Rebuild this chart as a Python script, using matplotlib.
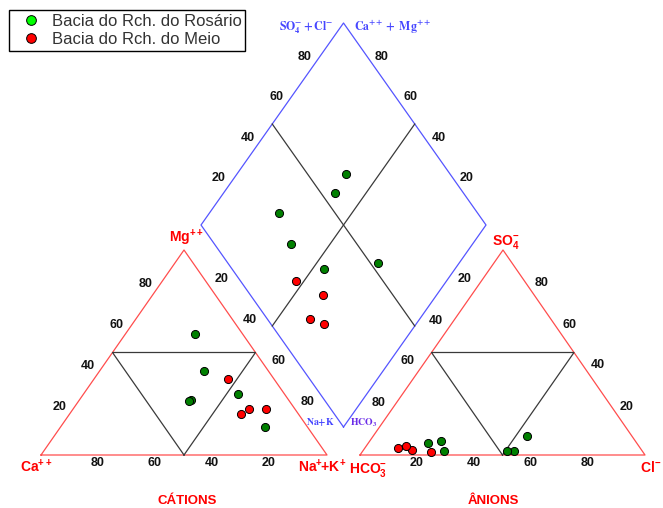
import numpy as np
import matplotlib.pyplot as plt
from matplotlib.lines import Line2D

plt.rcParams['font.family'] = ['Liberation Sans', 'DejaVu Sans']
plt.rcParams['mathtext.fontset'] = 'custom'
plt.rcParams['mathtext.rm'] = 'Liberation Sans'
plt.rcParams['mathtext.bf'] = 'Liberation Sans:bold'
plt.rcParams['mathtext.it'] = 'Liberation Sans:italic'

# Bacia do Rch. do Rosario - cations (%) and anions (%)
ros_ca = [16.5, 22.5, 16.0, 34.0, 35.0, 15.0]
ros_mg = [59.0, 41.0, 30.0, 27.0, 26.5, 13.5]
ros_na = [24.5, 36.5, 54.0, 39.0, 38.5, 71.5]
ros_hco3 = [69.5, 73.0, 68.0, 45.0, 36.5, 47.5]
ros_so4 = [2.0, 6.0, 7.0, 2.0, 9.5, 2.0]
ros_cl = [28.5, 21.0, 25.0, 53.0, 54.0, 50.5]

# Bacia do Rch. do Meio
meio_ca = [16.0, 20.0, 16.0, 10.0]
meio_mg = [37.0, 20.0, 22.5, 22.5]
meio_na = [47.0, 60.0, 61.5, 67.5]
meio_hco3 = [80.5, 74.5, 85.0, 81.5]
meio_so4 = [2.5, 1.5, 3.5, 4.5]
meio_cl = [17.0, 24.0, 11.5, 14.0]

ticks = [20, 40, 60, 80]

# diagram corners on the 663x508 canvas
CA, NA, MG = np.array([41, 455]), np.array([327, 455]), np.array([184, 250])
HCO3, CL, SO4 = np.array([360, 455]), np.array([645, 455]), np.array([503, 250])
DB, DL, DT, DR = (np.array([343.5, 427]), np.array([201, 225]),
                  np.array([343.5, 23]), np.array([486, 225]))

RED = '#ff4d4d'
BLUE = '#5555ff'
GRAY = '#3a3a3a'


def tern(p1, p2, p3, a, b, c):
    a, b, c = np.asarray(a), np.asarray(b), np.asarray(c)
    pts = (np.outer(a, p1) + np.outer(b, p2) + np.outer(c, p3)) / 100.0
    return pts[:, 0], pts[:, 1]


def diamond(na, so4, cl):
    u = (100 - np.asarray(na)) / 100.0
    v = (np.asarray(so4) + np.asarray(cl)) / 100.0
    pts = DB + np.outer(u, DL - DB) + np.outer(v, DR - DB)
    return pts[:, 0], pts[:, 1]


def poly(ax, pts, color, lw=0.9):
    pts = np.array(pts)
    ax.plot(pts[:, 0], pts[:, 1], color=color, lw=lw, zorder=1)


fig = plt.figure(figsize=(6.63, 5.08), dpi=100)
ax = fig.add_axes([0, 0, 1, 1])
ax.set_xlim(0, 663)
ax.set_ylim(508, 0)
ax.axis('off')

# frames
poly(ax, [CA, NA, MG, CA], RED)
poly(ax, [HCO3, CL, SO4, HCO3], RED)
poly(ax, [DB, DL, DT, DR, DB], BLUE)
for a, b, c in [(CA, NA, MG), (HCO3, CL, SO4)]:
    m1, m2, m3 = (a + b) / 2, (b + c) / 2, (c + a) / 2
    poly(ax, [m1, m2, m3, m1], GRAY)
poly(ax, [(DL + DT) / 2, (DB + DR) / 2], GRAY)
poly(ax, [(DT + DR) / 2, (DB + DL) / 2], GRAY)

# tick labels
tk = dict(fontsize=9, fontweight='bold', color='#111111', ha='center', va='center')
for t in ticks:
    f = t / 100.0
    p = CA + (NA - CA) * (1 - f)
    ax.text(p[0] - 1, p[1] + 8, str(t), **tk)
    p = CA + (MG - CA) * f
    ax.text(p[0] - 10, p[1] - 7, str(t), **tk)
    p = MG + (NA - MG) * f
    ax.text(p[0] + 9, p[1] - 12, str(t), **tk)
    p = HCO3 + (CL - HCO3) * f
    ax.text(p[0], p[1] + 8, str(t), **tk)
    p = CL + (SO4 - CL) * f
    ax.text(p[0] + 10, p[1] - 7.5, str(t), **tk)
    p = SO4 + (HCO3 - SO4) * f
    ax.text(p[0] - 10, p[1] - 11.5, str(t), **tk)
    p = DL + (DT - DL) * f
    ax.text(p[0] - 10.5, p[1] - 6.5, str(t), **tk)
    p = DR + (DT - DR) * f
    ax.text(p[0] + 9.5, p[1] - 6.5, str(t), **tk)

# corner labels
cl = dict(fontsize=10, color='red', ha='center', va='center')
ax.text(36, 467, r'$\mathbf{Ca^{++}}$', **cl)
ax.text(322, 467, r'$\mathbf{Na^{+}\!\!+\!K^{+}}$', **cl)
ax.text(186, 238, r'$\mathbf{Mg^{++}}$', **cl)
ax.text(506, 242, r'$\mathbf{SO_4^{-}}$', **cl)
ax.text(368, 470, r'$\mathbf{HCO_3^{-}}$', **cl)
ax.text(651, 468, r'$\mathbf{Cl^{-}}$', **cl)
ax.text(187, 501, 'CÁTIONS', fontsize=9.5, fontweight='bold', color='red',
        ha='center', va='center')
ax.text(493, 501, 'ÂNIONS', fontsize=9.5, fontweight='bold', color='red',
        ha='center', va='center')

dl = dict(color='#4646ff', ha='center', va='center', math_fontfamily='stix')
ax.text(306, 28, r'$\mathbf{SO_4^{-}+Cl^{-}}$', fontsize=8.5, **dl)
ax.text(393, 27, r'$\mathbf{Ca^{++}+\ Mg^{++}}$', fontsize=8.5, **dl)
ax.text(320, 422, r'$\mathbf{Na{+}K}$', fontsize=7, **dl)
ax.text(364, 423, r'$\mathbf{HCO_3}$', fontsize=7, color='#6a2be8', ha='center',
        va='center', math_fontfamily='stix')

# samples
mk = dict(s=34, edgecolors='black', linewidths=0.7, zorder=3)
for ca, mg, na, hc, so, c, col in [
        (ros_ca, ros_mg, ros_na, ros_hco3, ros_so4, ros_cl, '#008000'),
        (meio_ca, meio_mg, meio_na, meio_hco3, meio_so4, meio_cl, '#ff0000')]:
    x, y = tern(CA, NA, MG, ca, na, mg)
    ax.scatter(x, y, c=col, **mk)
    x, y = tern(HCO3, CL, SO4, hc, c, so)
    ax.scatter(x, y, c=col, **mk)
    x, y = diamond(na, so, c)
    ax.scatter(x, y, c=col, **mk)

handles = [
    Line2D([], [], ls='', marker='o', ms=7, mfc='#00ff00', mec='black', mew=0.7,
           label='Bacia do Rch. do Rosário'),
    Line2D([], [], ls='', marker='o', ms=7, mfc='#ff0000', mec='black', mew=0.7,
           label='Bacia do Rch. do Meio'),
]
leg = ax.legend(handles=handles, loc='upper left', bbox_to_anchor=(9 / 663, 1 - 10 / 508),
                borderaxespad=0, fontsize=12, fancybox=False, framealpha=1,
                edgecolor='black', handlelength=2.2, handletextpad=0.15,
                labelspacing=0.2, borderpad=0.22, labelcolor='#333333')
leg.get_frame().set_linewidth(1.0)

fig.savefig('out.png', dpi=100)
